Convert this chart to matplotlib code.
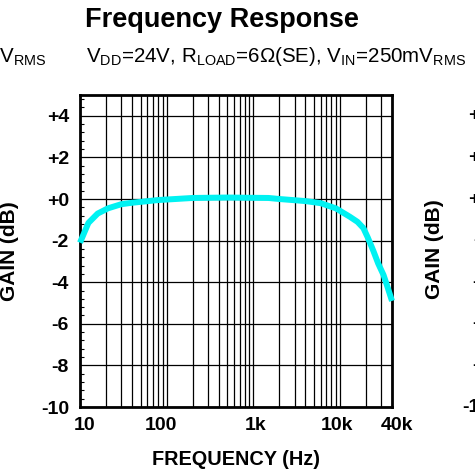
import matplotlib
matplotlib.use("Agg")
import matplotlib.pyplot as plt
import numpy as np
from matplotlib.ticker import FixedLocator, NullFormatter, MultipleLocator
from matplotlib.transforms import ScaledTranslation

plt.rcParams['font.family'] = ['Liberation Sans', 'DejaVu Sans']

# gain curve
freq = [10, 12.5, 16, 21, 30, 40, 80, 200, 500, 1500, 2000, 4000, 6000, 9000,
        13000, 16000, 18700, 21000, 24400, 27700, 31900, 35000, 40000]
gain = [-2.1, -1.15, -0.7, -0.45, -0.25, -0.18, -0.05, 0.05, 0.07, 0.05, 0.0,
        -0.1, -0.2, -0.45, -0.85, -1.1, -1.4, -1.85, -2.5, -3.1, -3.65, -4.15, -4.9]

xticks = [10, 100, 1000, 10000, 40000]
xticklabels = ['10', '100', '1k', '10k', '40k']
xlabel_shift = [5, -6, 2, -3, 5]   # the labels sit a little off their lines
yticks = [-10, -8, -6, -4, -2, 0, 2, 4]
yticklabels = ['-10', '-8', '-6', '-4', '-2', '+0', '+2', '+4']

W, H = 475, 473
fig = plt.figure(figsize=(W / 100, H / 100), dpi=100)
ax = fig.add_axes([80 / W, 1 - 407 / H, 312 / W, 312 / H])

ax.set_xscale('log')
ax.set_xlim(10, 40000)
ax.set_ylim(-10, 5)

minor_x = [m * d for d in [10, 100, 1000, 10000] for m in range(2, 10) if m * d < 40000]
ax.xaxis.set_major_locator(FixedLocator(xticks))
ax.xaxis.set_minor_locator(FixedLocator(minor_x))
ax.xaxis.set_minor_formatter(NullFormatter())
ax.set_xticklabels(xticklabels, fontsize=14, fontweight='bold')
ax.tick_params(axis='x', which='both', length=0, pad=7)
ax.grid(True, axis='x', which='both', color='black', lw=0.9)

ax.set_yticks(yticks)
ax.set_yticklabels(yticklabels, fontsize=14, fontweight='bold')
ax.yaxis.set_minor_locator(MultipleLocator(0.4))
ax.tick_params(axis='y', which='major', length=0, pad=8)
ax.tick_params(axis='y', which='minor', direction='in', length=3, width=0.8, left=True)
ax.grid(True, axis='y', which='major', color='black', lw=0.9)

# nudge the x labels after tick_params, which resets their transforms
for lab, dx in zip(ax.get_xticklabels(), xlabel_shift):
    lab.set_transform(lab.get_transform() + ScaledTranslation(dx / 100, 0, fig.dpi_scale_trans))

for s in ax.spines.values():
    s.set_linewidth(2)

ax.plot(freq, gain, color='#00F2F2', lw=4.3, solid_capstyle='butt', zorder=5, clip_on=False)

ax.set_xlabel('FREQUENCY (Hz)', fontsize=14.3, fontweight='bold', labelpad=12)
ax.yaxis.set_label_coords(-(80 - 19) / 312, 0.5)
ax.set_ylabel('GAIN (dB)', fontsize=15, fontweight='bold')

fig.text(222 / W, 1 - 20 / H, 'Frequency Response', fontsize=19.5, fontweight='bold',
         ha='center', va='center')
fig.text(86 / W, 1 - 57 / H,
         r'V$_{\mathregular{DD}}$=24V, R$_{\mathregular{LOAD}}$=6Ω(SE), V$_{\mathregular{IN}}$=250mV$_{\mathregular{RMS}}$',
         fontsize=14.8, ha='left', va='center')

# bits of the neighbouring charts that show at the edges
fig.text(46 / W, 1 - 57 / H, r'250mV$_{\mathregular{RMS}}$', fontsize=14.8, ha='right', va='center')
fig.text(435 / W, 1 - 249 / H, 'GAIN (dB)', fontsize=15, fontweight='bold',
         rotation=90, ha='center', va='center')
for v, lab in zip(yticks, yticklabels):
    fig.text(490 / W, 1 - (407 - (v + 10) * 312 / 15) / H, lab, fontsize=14,
             fontweight='bold', ha='right', va='center')

fig.savefig('out.png', dpi=100)
